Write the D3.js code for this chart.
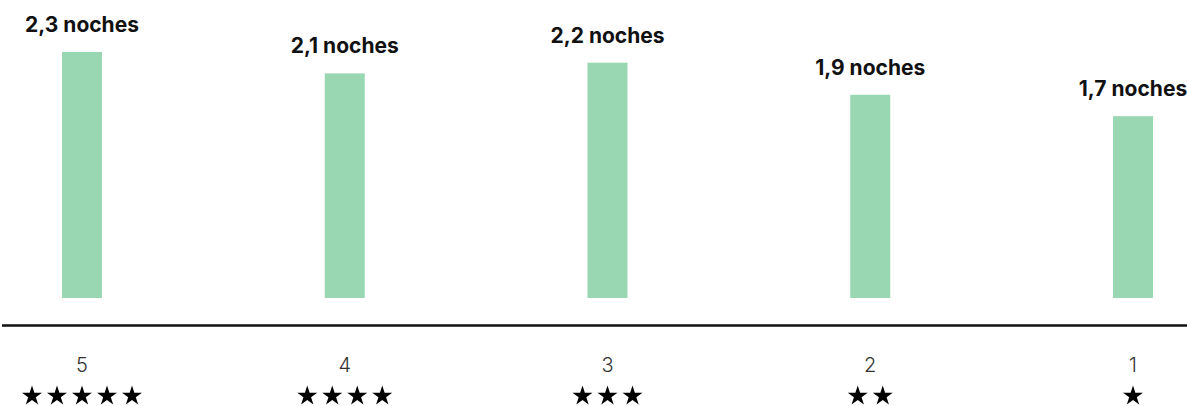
<!DOCTYPE html>
<html>
<head>
<meta charset="utf-8">
<script src="https://cdn.jsdelivr.net/npm/d3@7"></script>
<style>
  html, body { margin: 0; padding: 0; background: #fff; }
  svg { display: block; }
</style>
</head>
<body>
<svg id="chart" width="1187" height="406"></svg>
<script>
// Average nights stayed by rating
const ratings = ["5", "4", "3", "2", "1"];
const nights = [2.3, 2.1, 2.2, 1.9, 1.7];
const starCounts = [5, 4, 3, 2, 1];
const valueLabels = ["2,3 noches", "2,1 noches", "2,2 noches", "1,9 noches", "1,7 noches"];

const W = 1187, H = 406;
const svg = d3.select("#chart");

const x = d3.scalePoint().domain(ratings).range([82, 1133]);
const y = d3.scaleLinear().domain([0, 2.3]).range([298, 52]);
const barW = 40;
const starStep = 25;

const rows = ratings.map((r, i) => ({ r, v: nights[i], stars: starCounts[i], label: valueLabels[i] }));

// bars
svg.append("g").selectAll("rect").data(rows).join("rect")
  .attr("x", d => x(d.r) - barW / 2)
  .attr("y", d => y(d.v))
  .attr("width", barW)
  .attr("height", d => y(0) - y(d.v))
  .attr("fill", "#99d6b2");

// value labels
svg.append("g").selectAll("text").data(rows).join("text")
  .attr("x", d => x(d.r))
  .attr("y", d => y(d.v) - 20)
  .attr("text-anchor", "middle")
  .attr("font-family", "Inter, 'Noto Sans', sans-serif")
  .attr("font-weight", 700)
  .attr("font-size", 21)
  .attr("fill", "#111")
  .text(d => d.label);

// baseline
svg.append("line")
  .attr("x1", 2).attr("x2", W)
  .attr("y1", 325.5).attr("y2", 325.5)
  .attr("stroke", "#111")
  .attr("stroke-width", 2.5);

// rating numbers
svg.append("g").selectAll("text").data(rows).join("text")
  .attr("x", d => x(d.r))
  .attr("y", 372)
  .attr("text-anchor", "middle")
  .attr("font-family", "Inter, 'Noto Sans', sans-serif")
  .attr("font-weight", 300)
  .attr("font-size", 20)
  .attr("fill", "#333")
  .text(d => d.r);

// star rows, one symbol per star, centred under each bar
const star = d3.symbol().type(d3.symbolStar).size(124);
const starGroups = svg.append("g").selectAll("g").data(rows).join("g")
  .attr("transform", d => `translate(${x(d.r)},396)`);
starGroups.selectAll("path")
  .data(d => d3.range(d.stars).map(k => ({ k, n: d.stars })))
  .join("path")
  .attr("transform", s => `translate(${(s.k - (s.n - 1) / 2) * starStep},0)`)
  .attr("d", star)
  .attr("fill", "#000");
</script>
</body>
</html>
